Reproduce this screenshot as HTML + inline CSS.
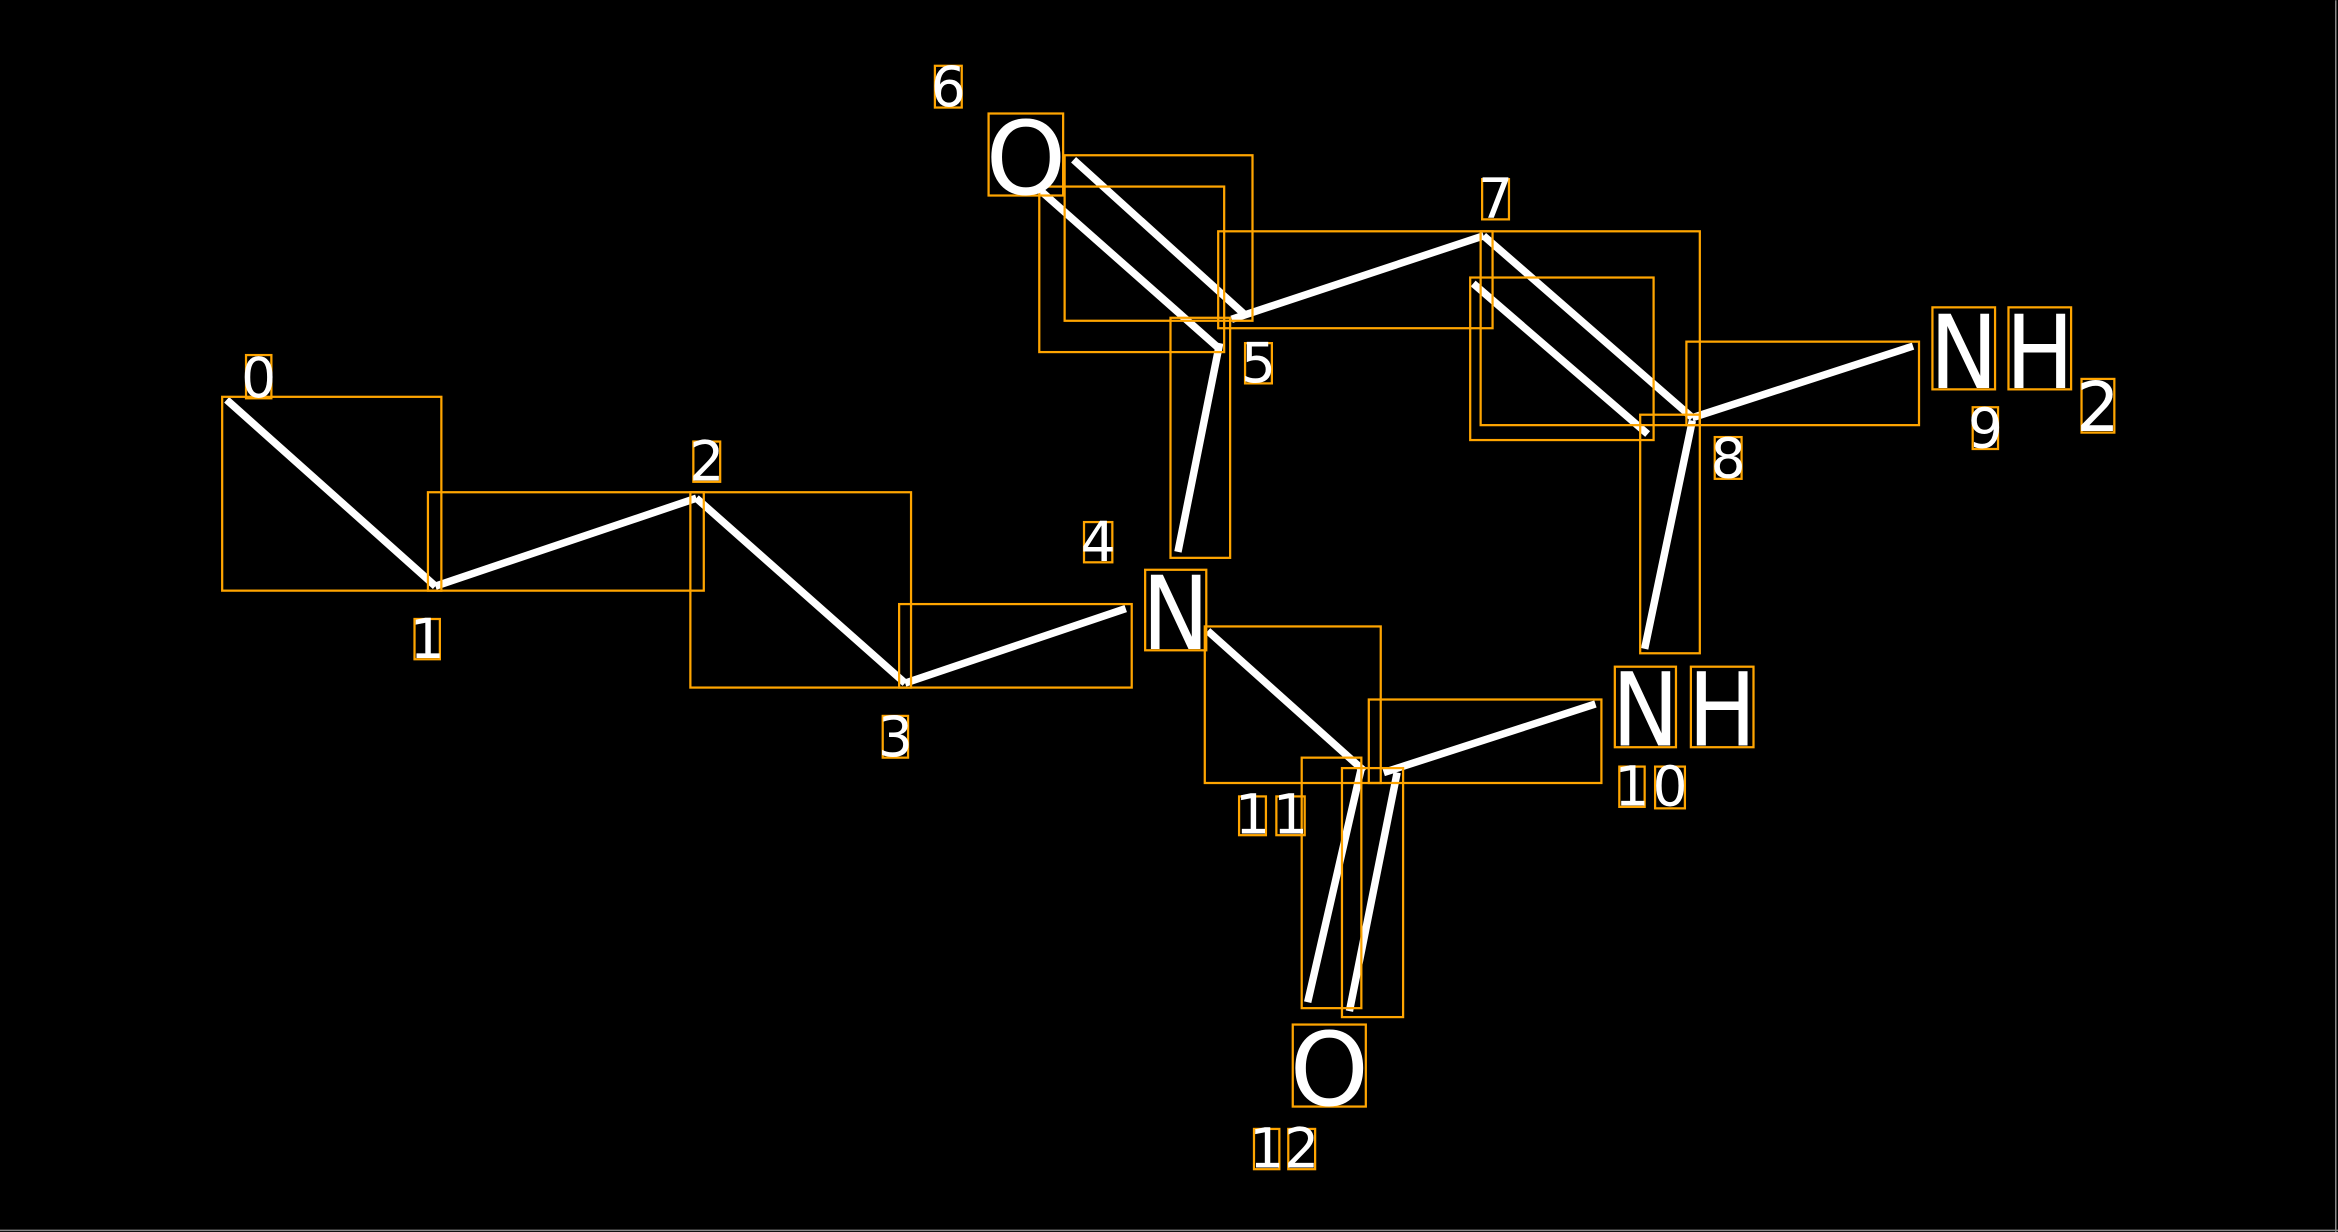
<!DOCTYPE html>
<html><head><meta charset="utf-8"><style>
html,body{margin:0;padding:0;background:#000;width:2338px;height:1232px;overflow:hidden}
svg{display:block}
text{font-family:"DejaVu Sans","Liberation Sans",sans-serif;fill:#fff}
</style></head><body>
<svg width="2338" height="1232" viewBox="0 0 1568 826" xmlns="http://www.w3.org/2000/svg">
<rect width="1568" height="826" fill="#000"/>
<line x1="1566.5" y1="0" x2="1566.5" y2="826" stroke="#888" stroke-width="1"/>
<line x1="0" y1="825" x2="1568" y2="825" stroke="#888" stroke-width="1"/>
<g stroke="#fff" stroke-width="5" stroke-linecap="butt">
<line x1="152" y1="268" x2="292" y2="393"/>
<line x1="292" y1="393" x2="467" y2="334"/>
<line x1="467" y1="334" x2="607" y2="458"/>
<line x1="607" y1="458" x2="755" y2="408"/>
<line x1="810" y1="423" x2="915" y2="517"/>
<line x1="928" y1="518" x2="1070" y2="472"/>
<line x1="913" y1="515" x2="877" y2="672"/>
<line x1="937" y1="518" x2="905" y2="678"/>
<line x1="790" y1="370" x2="818" y2="230"/>
<line x1="697" y1="127" x2="818" y2="234"/>
<line x1="720" y1="107" x2="836" y2="212"/>
<line x1="826" y1="214" x2="995" y2="158"/>
<line x1="995" y1="158" x2="1135" y2="280"/>
<line x1="988" y1="190" x2="1105" y2="291"/>
<line x1="1135" y1="280" x2="1283" y2="232"/>
<line x1="1135" y1="282" x2="1103" y2="435"/>
</g>
<g fill="none" stroke="#FFA500" stroke-width="1.5">
<rect x="149" y="266" width="147" height="130"/>
<rect x="287" y="330" width="185" height="66"/>
<rect x="463" y="330" width="148" height="131"/>
<rect x="603" y="405" width="156" height="56"/>
<rect x="808" y="420" width="118" height="105"/>
<rect x="918" y="469" width="156" height="56"/>
<rect x="873" y="508" width="40" height="168"/>
<rect x="900" y="515" width="41" height="167"/>
<rect x="785" y="213" width="40" height="161"/>
<rect x="697" y="125" width="124" height="111"/>
<rect x="714" y="104" width="126" height="111"/>
<rect x="817" y="155" width="184" height="65"/>
<rect x="993" y="155" width="147" height="130"/>
<rect x="986" y="186" width="123" height="109"/>
<rect x="1131" y="229" width="156" height="56"/>
<rect x="1100" y="278" width="40" height="160"/>
<!-- label boxes -->
<rect x="165" y="238" width="17" height="29"/>
<rect x="278" y="415" width="17" height="27"/>
<rect x="465" y="296" width="18" height="27"/>
<rect x="592" y="480" width="17" height="28"/>
<rect x="727" y="350" width="19" height="27"/>
<rect x="768" y="382" width="41" height="54"/>
<rect x="663" y="76" width="50" height="55"/>
<rect x="627" y="44" width="18" height="28"/>
<rect x="835" y="230" width="18" height="27"/>
<rect x="994" y="120" width="18" height="27"/>
<rect x="1296" y="206" width="42" height="55"/>
<rect x="1347" y="206" width="42" height="55"/>
<rect x="1396" y="254" width="22" height="36"/>
<rect x="1323" y="273" width="17" height="28"/>
<rect x="1150" y="293" width="18" height="28"/>
<rect x="1083" y="447" width="41" height="54"/>
<rect x="1134" y="447" width="42" height="54"/>
<rect x="1086" y="514" width="17" height="27"/>
<rect x="1110" y="514" width="20" height="28"/>
<rect x="831" y="534" width="18" height="26"/>
<rect x="856" y="534" width="19" height="26"/>
<rect x="867" y="687" width="49" height="55"/>
<rect x="841" y="757" width="17" height="27"/>
<rect x="864" y="757" width="18" height="27"/>
</g>
<g font-size="68">
<text x="661" y="130" textLength="54" lengthAdjust="spacingAndGlyphs">O</text>
<text x="766" y="435" textLength="45" lengthAdjust="spacingAndGlyphs">N</text>
<text x="1294" y="260" textLength="46" lengthAdjust="spacingAndGlyphs">N</text>
<text x="1345" y="260" textLength="46" lengthAdjust="spacingAndGlyphs">H</text>
<text x="1081" y="500" textLength="45" lengthAdjust="spacingAndGlyphs">N</text>
<text x="1132" y="500" textLength="46" lengthAdjust="spacingAndGlyphs">H</text>
<text x="865" y="741" textLength="53" lengthAdjust="spacingAndGlyphs">O</text>
</g>
<g font-size="37" text-anchor="middle">
<text x="173.5" y="266">0</text>
<text x="286.5" y="441">1</text>
<text x="474" y="322">2</text>
<text x="600.5" y="507">3</text>
<text x="736.5" y="376">4</text>
<text x="636" y="71">6</text>
<text x="844" y="256">5</text>
<text x="1003" y="146">7</text>
<text x="1407" y="289" font-size="46">2</text>
<text x="1331.5" y="300">9</text>
<text x="1159" y="320">8</text>
<text x="1094.5" y="540">1</text>
<text x="1120" y="540">0</text>
<text x="840" y="559">1</text>
<text x="865.5" y="559">1</text>
<text x="849.5" y="783">1</text>
<text x="873" y="783">2</text>
</g>
</svg>
</body></html>
